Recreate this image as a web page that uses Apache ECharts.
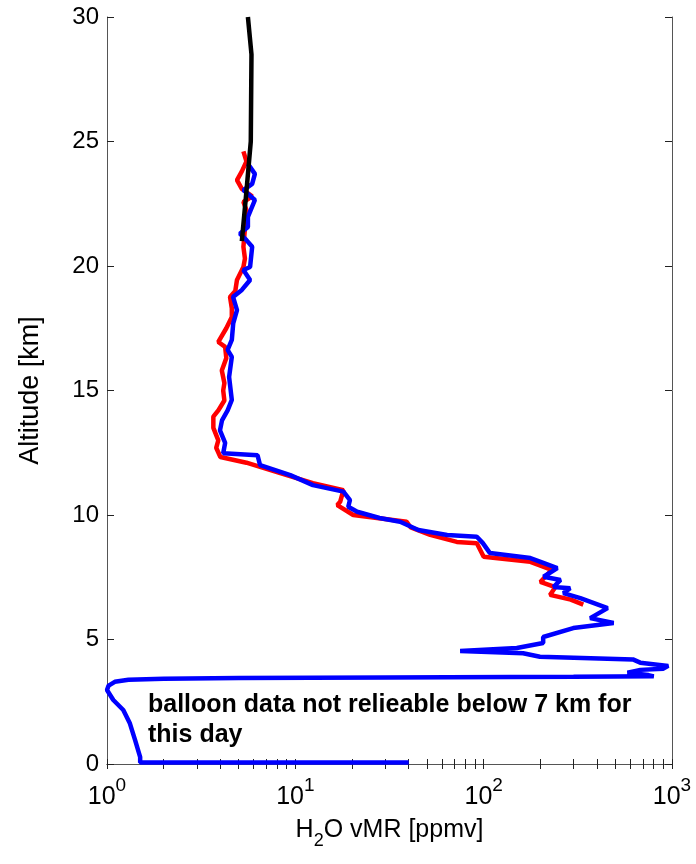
<!DOCTYPE html>
<html>
<head>
<meta charset="utf-8">
<script src="https://cdn.jsdelivr.net/npm/echarts@6/dist/echarts.min.js"></script>
<style>
  html, body { margin: 0; padding: 0; background: #fff; }
  #chart { width: 696px; height: 864px; }
</style>
</head>
<body>
<div id="chart"></div>
<script>
// altitude [km] and H2O vmr [ppmv], top to bottom
const blueAlt = [24.1, 23.7, 23.3, 23.05, 22.65, 21.97, 21.57, 21.3, 21.04, 20.77, 19.96, 19.84, 19.44, 19.04,
  18.76, 18.23, 17.7, 17.03, 16.63, 16.35, 15.54, 14.62, 14.2, 13.8, 13.4, 12.9, 12.48, 12.4, 12.0, 11.6,
  11.2, 10.94, 10.6, 10.33, 10.13, 9.88, 9.73, 9.4, 9.2, 9.13, 8.87, 8.47, 8.27, 8.07, 7.87, 7.52, 7.39,
  7.11, 7.06, 6.86, 6.66, 6.26, 5.86, 5.66, 5.46, 5.1, 4.86, 4.66, 4.54, 4.45, 4.31, 4.2, 4.07, 3.94,
  3.83, 3.78, 3.67, 3.57, 3.52, 3.5, 3.47, 3.45, 3.42, 3.38, 3.3, 3.15, 2.97, 2.57, 2.17, 1.65, 0.96,
  0.28, 0.06, 0.06];
const blueVmr = [5.6, 6.1, 5.9, 5.3, 6.1, 5.6, 5.6, 5.08, 5.5, 5.9, 5.75, 5.3, 5.75, 5.2,
  4.67, 4.9, 4.68, 4.6, 4.37, 4.6, 4.45, 4.6, 4.37, 4.08, 3.98, 4.24, 4.14, 6.3, 6.5, 9.4,
  12.4, 18, 19.5, 19.1, 21.3, 28, 36, 45, 64, 92, 99, 108, 177, 209, 246, 208, 256,
  235, 288, 265, 326, 455, 368, 490, 299, 207, 207, 150, 75, 162, 199, 620, 678, 955,
  900, 680, 580, 750, 800, 300, 30, 5, 2, 1.3, 1.1, 1.02, 1.0, 1.08, 1.22, 1.32, 1.41,
  1.5, 1.5, 40];

const redAlt = [24.6, 24.2, 23.8, 23.45, 23.1, 22.8, 22.57, 22.1, 21.5, 20.77, 20.3, 19.96, 19.44, 19.0,
  18.76, 18.3, 17.95, 17.5, 16.95, 16.75, 16.3, 15.8, 15.3, 15.0, 14.6, 14.2, 13.95, 13.5, 13.0, 12.7,
  12.33, 12.1, 11.93, 11.6, 11.28, 11.0, 10.53, 10.4, 10.0, 9.73, 9.5, 9.2, 8.92, 8.87, 8.32, 8.12,
  7.8, 7.31, 7.1, 6.79, 6.6, 6.4];
const redVmr = [5.3, 5.5, 5.2, 4.9, 5.2, 5.9, 5.3, 5.6, 5.4, 5.3, 5.4, 5.3, 4.9, 4.8,
  4.5, 4.6, 4.6, 4.3, 3.9, 4.24, 4.3, 4.07, 4.2, 4.14, 4.2, 3.9, 3.67, 3.67, 3.9, 3.8,
  4.0, 5.5, 6.5, 9.0, 12.4, 18, 17.3, 16.7, 20.3, 39, 41, 52, 72, 92, 100, 177,
  230, 200, 240, 225, 290, 338];

const blackAlt = [30, 28.5, 25, 23, 21];
const blackVmr = [5.6, 5.85, 5.8, 5.5, 5.2];

const xMajor = [1, 10, 100, 1000];
const xTicks = [1, 2, 3, 4, 5, 6, 7, 8, 9, 10, 20, 30, 40, 50, 60, 70, 80, 90,
  100, 200, 300, 400, 500, 600, 700, 800, 900, 1000];

const note = 'balloon data not relieable below 7 km for\nthis day';

const font = '"Liberation Sans", Arial, Helvetica, sans-serif';
const boxColor = '#555';

const pairs = (xs, ys) => xs.map((x, i) => [x, ys[i]]);

const chart = echarts.init(document.getElementById('chart'));

const logAxis = (extra) => Object.assign({
  type: 'log',
  logBase: 10,
  min: 1,
  max: 1000,
  splitLine: { show: false },
  minorSplitLine: { show: false }
}, extra);

const option = {
  backgroundColor: '#fff',
  animation: false,
  grid: { left: 107, right: 24, top: 17, bottom: 100, containLabel: false },
  xAxis: [
    logAxis({
      position: 'bottom',
      axisLine: { show: true, lineStyle: { color: boxColor, width: 1 } },
      axisTick: { show: true, inside: true, length: 5, lineStyle: { color: '#222' }, customValues: xTicks },
      axisLabel: {
        margin: 12,
        customValues: xMajor,
        formatter: v => '{b|10}{s|' + Math.round(Math.log10(v)) + '}',
        rich: {
          b: { fontSize: 25, fontFamily: font, color: '#000', lineHeight: 34, verticalAlign: 'bottom' },
          s: { fontSize: 19, fontFamily: font, color: '#000', lineHeight: 19, verticalAlign: 'top' }
        }
      },
      name: '{n|H}{sub|2}{n|O vMR [ppmv]}',
      nameLocation: 'middle',
      nameGap: 54,
      nameTextStyle: {
        rich: {
          n: { fontSize: 25, fontFamily: font, color: '#000', lineHeight: 32, verticalAlign: 'top' },
          sub: { fontSize: 18, fontFamily: font, color: '#000', lineHeight: 18, verticalAlign: 'bottom' }
        }
      }
    }),
    logAxis({
      position: 'top',
      axisLine: { show: true, lineStyle: { color: boxColor, width: 1 } },
      axisTick: { show: true, inside: true, length: 5, lineStyle: { color: '#222' }, customValues: xTicks },
      axisLabel: { show: false }
    })
  ],
  yAxis: [
    {
      type: 'value',
      min: 0,
      max: 30,
      interval: 5,
      position: 'left',
      splitLine: { show: false },
      axisLine: { show: true, lineStyle: { color: boxColor, width: 1 } },
      axisTick: { show: true, inside: true, length: 7, lineStyle: { color: '#222' } },
      axisLabel: { fontSize: 24, fontFamily: font, color: '#000', margin: 8 },
      name: 'Altitude [km]',
      nameLocation: 'middle',
      nameGap: 63,
      nameTextStyle: { fontSize: 27, fontFamily: font, color: '#000' }
    },
    {
      type: 'value',
      min: 0,
      max: 30,
      interval: 5,
      position: 'right',
      splitLine: { show: false },
      axisLine: { show: true, lineStyle: { color: boxColor, width: 1 } },
      axisTick: { show: true, inside: true, length: 7, lineStyle: { color: '#222' } },
      axisLabel: { show: false }
    }
  ],
  series: [
    {
      type: 'line',
      data: pairs(redVmr, redAlt),
      showSymbol: false,
      lineStyle: { color: '#ff0000', width: 4.5 },
      z: 2
    },
    {
      type: 'line',
      data: pairs(blueVmr, blueAlt),
      showSymbol: false,
      lineStyle: { color: '#0000ff', width: 4.5 },
      z: 3
    },
    {
      type: 'line',
      data: pairs(blackVmr, blackAlt),
      showSymbol: false,
      lineStyle: { color: '#000000', width: 4.5 },
      z: 4
    }
  ],
  graphic: [
    {
      type: 'text',
      left: 148,
      top: 690,
      z: 10,
      style: {
        text: note,
        fontSize: 25,
        fontWeight: 'bold',
        fontFamily: font,
        fill: '#000',
        lineHeight: 30
      }
    }
  ]
};

chart.setOption(option);
</script>
</body>
</html>
